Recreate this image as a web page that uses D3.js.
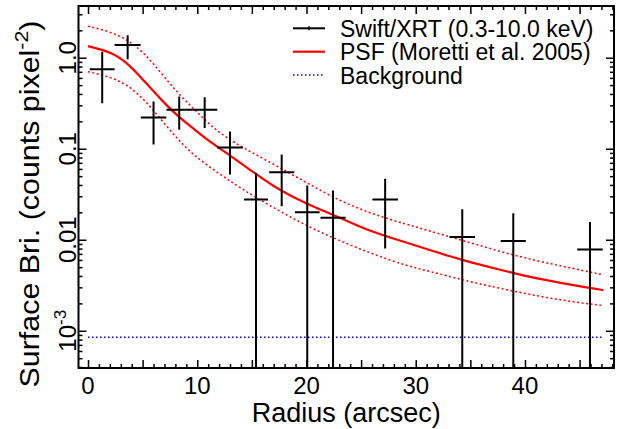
<!DOCTYPE html>
<html>
<head>
<meta charset="utf-8">
<script src="https://cdn.jsdelivr.net/npm/d3@7"></script>
<style>
  body { margin: 0; background: #fff; }
  text { font-family: "Liberation Sans", Arial, Helvetica, sans-serif; fill: #000; }
</style>
</head>
<body>
<svg width="621" height="429"></svg>
<script>
// Swift/XRT radial profile
const radius = [1.3, 3.63, 6.0, 8.35, 10.68, 13.0, 15.38, 17.73, 20.07, 22.43, 27.2, 34.26, 38.93, 45.95]
const radErr = [1.14, 1.19, 1.17, 1.17, 1.15, 1.18, 1.1, 1.15, 1.13, 1.15, 1.17, 1.17, 1.15, 1.17]
const surfBri = [0.746, 1.377, 0.22, 0.268, 0.268, 0.1035, 0.0277, 0.055, 0.0201, 0.0174, 0.0277, 0.0107, 0.0097, 0.0078]
const briHi = [1.16, 1.77, 0.33, 0.374, 0.369, 0.155, 0.0543, 0.0865, 0.0395, 0.0348, 0.0467, 0.0216, 0.0195, 0.0157]
// null = lower error runs off the bottom of the plot
const briLo = [0.317, 0.96, 0.111, 0.162, 0.169, 0.052, null, 0.0234, null, null, 0.008, null, null, null]

// PSF model (Moretti et al. 2005), centre curve and its two dotted bounds
const psfR = [0, 2.1, 3.66, 5.19, 6.71, 8.24, 9.77, 11.29, 13.12, 15.44, 16.96, 18.49, 20.02, 21.54, 23.07, 24.6, 26.11, 27.64, 29.17, 31.3, 34.2, 36.49, 38.93, 41.07, 43.5, 45.95, 47.17]
const psfMid = [1.34, 1.16, 0.87, 0.546, 0.344, 0.226, 0.162, 0.116, 0.0826, 0.052, 0.0388, 0.0307, 0.025, 0.0208, 0.0175, 0.0144, 0.0122, 0.0106, 0.0093, 0.0077, 0.006, 0.0051, 0.0043, 0.00376, 0.00332, 0.00295, 0.0028]
const psfUpR = [0, 2.13, 3.66, 5.19, 6.71, 8.24, 9.77, 11.29, 13.12, 16.96, 20.02, 23.07, 26.11, 29.17, 31.3, 34.2, 38.93, 43.5, 47.17]
const psfUp = [2.22, 1.92, 1.56, 1.12, 0.675, 0.407, 0.268, 0.176, 0.1205, 0.068, 0.0423, 0.0266, 0.019, 0.0148, 0.01247, 0.0099, 0.00671, 0.00509, 0.00412]
const psfLowR = [0, 2.13, 3.66, 5.19, 6.71, 8.24, 9.77, 11.9, 13.91, 16.96, 20.02, 23.07, 26.11, 29.17, 31.3, 34.2, 38.93, 43.5, 47.17]
const psfLow = [0.703, 0.61, 0.5, 0.344, 0.208, 0.126, 0.0826, 0.0543, 0.0372, 0.0225, 0.01416, 0.0097, 0.00694, 0.00517, 0.0045, 0.00363, 0.00271, 0.00214, 0.00189]

// background level
const bgR = [0, 47.17]
const bgLevel = [8.5e-4, 8.5e-4]

const xTickVals = [0, 10, 20, 30, 40]
const yTickVals = [1, 0.1, 0.01, 0.001]
const yTickText = ['1.0', '0.1', '0.01', '10']

const legendLabels = ['Swift/XRT (0.3-10.0 keV)', 'PSF (Moretti et al. 2005)', 'Background']

const svg = d3.select('svg')
const pLeft = 78.5, pRight = 614, pTop = 6, pBottom = 368

const x = d3.scaleLinear().domain([-0.87, 48.15]).range([pLeft, pRight])
const y = d3.scaleLog().domain([3.9e-4, 3.7]).range([pBottom, pTop])

svg.append('clipPath').attr('id', 'plot')
  .append('rect').attr('x', pLeft).attr('y', pTop)
  .attr('width', pRight - pLeft).attr('height', pBottom - pTop)

const plot = svg.append('g').attr('clip-path', 'url(#plot)')

const line = d3.line().x(d => x(d[0])).y(d => y(d[1])).curve(d3.curveBasis)

// background
plot.append('path')
  .attr('d', d3.line().x(d => x(d[0])).y(d => y(d[1]))(d3.zip(bgR, bgLevel)))
  .attr('fill', 'none').attr('stroke', '#0000ff').attr('stroke-width', 1.4)
  .attr('stroke-dasharray', '1.5,2.5')

// psf bounds + centre
;[[psfUpR, psfUp], [psfLowR, psfLow]].forEach(([r, v]) => {
  plot.append('path').attr('d', line(d3.zip(r, v)))
    .attr('fill', 'none').attr('stroke', '#ff0000').attr('stroke-width', 1.5)
    .attr('stroke-dasharray', '2,2.5')
})
plot.append('path').attr('d', line(d3.zip(psfR, psfMid)))
  .attr('fill', 'none').attr('stroke', '#ff0000').attr('stroke-width', 2.2)

// data points with error bars
const pts = radius.map((r, i) => ({ r, e: radErr[i], v: surfBri[i], lo: briLo[i], hi: briHi[i] }))
const eb = plot.selectAll('g.pt').data(pts).enter().append('g').attr('class', 'pt')
eb.append('line')
  .attr('x1', d => x(d.r)).attr('x2', d => x(d.r))
  .attr('y1', d => y(d.hi)).attr('y2', d => d.lo == null ? y(y.domain()[0]) : y(d.lo))
eb.append('line')
  .attr('x1', d => x(d.r - d.e)).attr('x2', d => x(d.r + d.e))
  .attr('y1', d => y(d.v)).attr('y2', d => y(d.v))
eb.selectAll('line').attr('stroke', '#000').attr('stroke-width', 2)

// ticks, inward on all four sides
function ticks(axis, tr, vals, size) {
  const g = svg.append('g').attr('transform', tr)
    .call(axis.tickValues(vals).tickSize(-size).tickFormat(''))
  g.select('.domain').remove()
  g.selectAll('line').attr('stroke', '#000').attr('stroke-width', 1.5)
}
const xMinor = d3.range(0, 49).filter(v => v % 5 !== 0)
const xMajor = d3.range(0, 49, 5)
ticks(d3.axisBottom(x), `translate(0,${pBottom})`, xMinor, 4)
ticks(d3.axisBottom(x), `translate(0,${pBottom})`, xMajor, 8)
ticks(d3.axisTop(x), `translate(0,${pTop})`, xMinor, 4)
ticks(d3.axisTop(x), `translate(0,${pTop})`, xMajor, 8)

const yMinor = []
;[1e-4, 1e-3, 1e-2, 1e-1, 1].forEach(dec => {
  for (let k = 2; k <= 9; k++) {
    const v = dec * k
    if (v > y.domain()[0] && v < y.domain()[1]) yMinor.push(v)
  }
})
ticks(d3.axisLeft(y), `translate(${pLeft},0)`, yMinor, 4)
ticks(d3.axisLeft(y), `translate(${pLeft},0)`, yTickVals, 8)
ticks(d3.axisRight(y), `translate(${pRight},0)`, yMinor, 4)
ticks(d3.axisRight(y), `translate(${pRight},0)`, yTickVals, 8)

// frame
svg.append('rect').attr('x', pLeft).attr('y', pTop)
  .attr('width', pRight - pLeft).attr('height', pBottom - pTop)
  .attr('fill', 'none').attr('stroke', '#000').attr('stroke-width', 2)

// x tick labels
svg.selectAll('text.xt').data(xTickVals).enter().append('text')
  .attr('class', 'xt')
  .attr('x', d => x(d)).attr('y', 394)
  .attr('text-anchor', 'middle').attr('font-size', 24)
  .text(d => d)

// y tick labels, rotated
const yl = svg.selectAll('text.yt').data(yTickVals).enter().append('text')
  .attr('class', 'yt')
  .attr('transform', d => `translate(76,${y(d)}) rotate(-90)`)
  .attr('text-anchor', 'middle').attr('font-size', 24)
yl.append('tspan').text((d, i) => yTickText[i])
yl.filter(d => d === 0.001).append('tspan')
  .attr('font-size', 17).attr('dy', -10).text('-3')

// axis titles
svg.append('text')
  .attr('x', (pLeft + pRight) / 2).attr('y', 422)
  .attr('text-anchor', 'middle').attr('font-size', 27)
  .text('Radius (arcsec)')

const yTitle = svg.append('text')
  .attr('text-anchor', 'middle').attr('font-size', 27)
yTitle.append('tspan').text('Surface Bri. (counts pixel')
yTitle.append('tspan').attr('font-size', 19).attr('dy', -11).text('-2')
yTitle.append('tspan').attr('dy', 11).text(')')
const yw = yTitle.node().getComputedTextLength()
yTitle.attr('transform', `translate(39,204) rotate(-90) scale(${367 / yw},1)`)

// legend
const legY = [28.3, 51.7, 75]
const lg = svg.append('g')
lg.append('line').attr('x1', 293).attr('x2', 325).attr('y1', legY[0]).attr('y2', legY[0])
  .attr('stroke', '#000').attr('stroke-width', 2)
lg.append('line').attr('x1', 309).attr('x2', 309).attr('y1', legY[0] - 2).attr('y2', legY[0] + 2)
  .attr('stroke', '#000').attr('stroke-width', 1.5)
lg.append('line').attr('x1', 293).attr('x2', 325).attr('y1', legY[1]).attr('y2', legY[1])
  .attr('stroke', '#ff0000').attr('stroke-width', 2.2)
lg.append('line').attr('x1', 293).attr('x2', 325).attr('y1', legY[2]).attr('y2', legY[2])
  .attr('stroke', '#0000ff').attr('stroke-width', 1.4).attr('stroke-dasharray', '1.5,2.5')
lg.selectAll('text').data(legendLabels).enter().append('text')
  .attr('x', 340).attr('y', (d, i) => legY[i] + 8.5)
  .attr('font-size', 23)
  .text(d => d)
</script>
</body>
</html>
